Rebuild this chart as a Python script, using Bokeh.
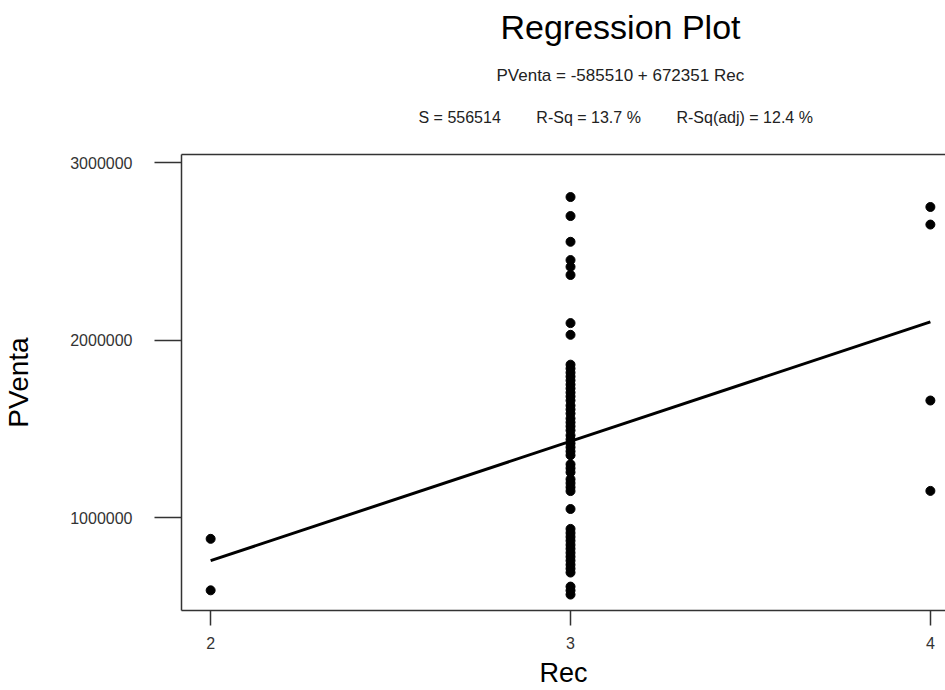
from bokeh.plotting import figure
from bokeh.models import (Range1d, FixedTicker, NumeralTickFormatter, LinearAxis, Title)
from bokeh.embed import file_html
from bokeh.resources import INLINE

# ---- data ----
rec2_pventa = [882000, 592000]
rec3_pventa = [2807000, 2700000, 2555000, 2452000, 2414000, 2368000, 2097000, 2031000,
               1863000, 1841000, 1818000, 1796000, 1774000, 1751000, 1729000, 1706000,
               1684000, 1661000, 1633000, 1611000, 1588000, 1560000, 1538000, 1516000,
               1493000, 1465000, 1442000, 1420000, 1398000, 1375000, 1353000, 1302000,
               1280000, 1257000, 1218000, 1196000, 1173000, 1151000, 1050000, 938000,
               915000, 893000, 871000, 848000, 826000, 803000, 781000, 759000, 736000,
               714000, 692000, 613000, 591000, 568000]
rec4_pventa = [2751000, 2652000, 1661000, 1152000]

intercept = -585510
slope = 672351
x_ticks = [2, 3, 4]
y_ticks = [1000000, 2000000, 3000000]

title_text = "Regression Plot"
eq_text = "PVenta = -585510 + 672351 Rec"
NB = "\u00a0" * 8
stats_text = "S = 556514" + NB + "R-Sq = 13.7 %" + NB + "R-Sq(adj) = 12.4 %"

rec = [2] * len(rec2_pventa) + [3] * len(rec3_pventa) + [4] * len(rec4_pventa)
pventa = rec2_pventa + rec3_pventa + rec4_pventa

line_x = [min(rec), max(rec)]
line_y = [intercept + slope * v for v in line_x]

W, H = 945, 690
FONT = "Liberation Sans"

p = figure(width=W, height=H, output_backend="svg", toolbar_location=None,
           x_range=Range1d(1.919, 4.042), y_range=Range1d(478400, 3046600),
           min_border_left=181, min_border_right=0, min_border_top=154,
           min_border_bottom=78, x_axis_label="Rec", y_axis_label="PVenta")
p.outline_line_color = None
p.xgrid.visible = False
p.ygrid.visible = False
p.background_fill_color = "white"
p.border_fill_color = "white"

p.line(line_x, line_y, line_color="black", line_width=3)
p.scatter(rec, pventa, size=9, fill_color="black", line_color="black")

for ax in (p.xaxis[0], p.yaxis[0]):
    ax.axis_line_color = "#333333"
    ax.axis_line_width = 1.5
    ax.major_tick_line_color = "#333333"
    ax.major_tick_line_width = 1.5
    ax.major_tick_in = 0
    ax.minor_tick_line_color = None
    ax.major_label_text_font = FONT
    ax.major_label_text_font_size = "16px"
    ax.major_label_text_color = "#333333"
    ax.axis_label_text_font = FONT
    ax.axis_label_text_font_style = "normal"
    ax.axis_label_text_color = "black"

p.xaxis.axis_label_text_font_size = "27px"
p.yaxis.axis_label_text_font_size = "28px"
p.xaxis.ticker = FixedTicker(ticks=x_ticks)
p.yaxis.ticker = FixedTicker(ticks=y_ticks)
p.yaxis.formatter = NumeralTickFormatter(format="0")
p.xaxis.major_tick_out = 15
p.xaxis.major_label_standoff = 11
p.xaxis.axis_label_standoff = 6
p.yaxis.major_tick_out = 27
p.yaxis.major_label_standoff = 22
p.yaxis.axis_label_standoff = 33

# top frame edge (no ticks)
top_axis = LinearAxis(ticker=FixedTicker(ticks=[]), axis_line_color="#333333",
                      axis_line_width=1.5, major_tick_line_color=None,
                      minor_tick_line_color=None, major_label_text_color=None,
                      major_tick_out=0, major_tick_in=0, major_label_standoff=0)
p.add_layout(top_axis, "above")

# gap between the frame and the statistics line
p.add_layout(Title(text="\u00a0", standoff=24, text_font=FONT, text_font_size="1px"),
             "above")
p.add_layout(Title(text=stats_text, align="left", offset=237, standoff=4,
                   text_font=FONT, text_font_size="16px", text_font_style="normal",
                   text_color="#222222"), "above")
p.add_layout(Title(text=eq_text, align="left", offset=315, standoff=40,
                   text_font=FONT, text_font_size="17px", text_font_style="normal",
                   text_color="#222222"), "above")
p.add_layout(Title(text=title_text, align="left", offset=319, standoff=-4,
                   text_font=FONT, text_font_size="34px", text_font_style="normal",
                   text_color="black"), "above")

open("out.html", "w").write(file_html(p, INLINE))
